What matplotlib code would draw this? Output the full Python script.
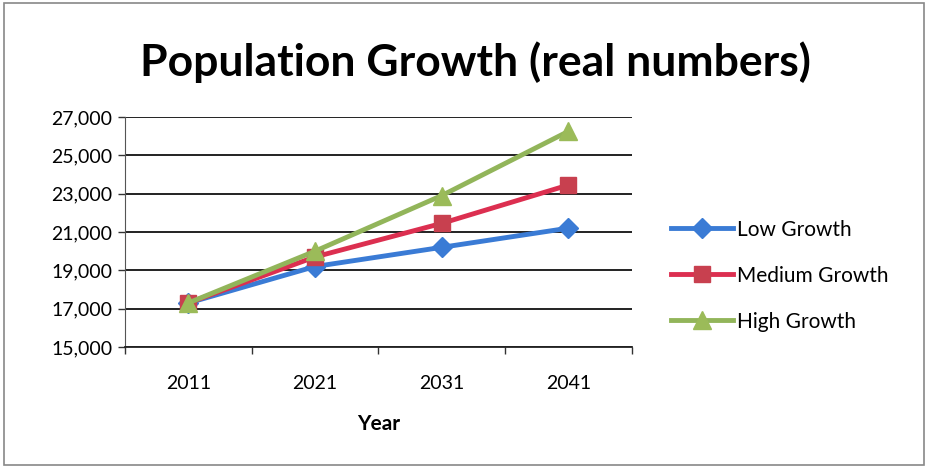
import matplotlib.pyplot as plt
from matplotlib.patches import Rectangle
from matplotlib.ticker import FuncFormatter, FixedLocator

years = ["2011", "2021", "2031", "2041"]
low_growth = [17300, 19200, 20200, 21200]
medium_growth = [17300, 19700, 21450, 23450]
high_growth = [17300, 20000, 22900, 26250]

plt.rcParams["font.family"] = ["Lato", "DejaVu Sans"]

fig = plt.figure(figsize=(9.28, 4.68), dpi=100)
ax = fig.add_axes([0.1347, 0.2585, 0.546, 0.4915])

x = list(range(len(years)))
ax.plot(x, low_growth, color="#3a7bd5", lw=3.5, marker="D", ms=10,
        mfc="#3a7bd5", mec="#3a7bd5", label="Low Growth", zorder=3)
ax.plot(x, medium_growth, color="#dc2f50", lw=3.5, marker="s", ms=12,
        mfc="#c8404f", mec="#c8404f", label="Medium Growth", zorder=3)
ax.plot(x, high_growth, color="#92b55a", lw=3.5, marker="^", ms=13,
        mfc="#9bbb59", mec="#9bbb59", label="High Growth", zorder=4)

ax.set_xlim(-0.5, len(years) - 0.5)
ax.set_ylim(15000, 27000)
ax.set_yticks(range(15000, 27001, 2000))
ax.yaxis.set_major_formatter(FuncFormatter(lambda v, p: f"{int(v):,}"))
ax.set_xticks(x)
ax.set_xticklabels(years)
ax.xaxis.set_minor_locator(FixedLocator([i - 0.5 for i in range(len(years) + 1)]))
ax.tick_params(axis="x", which="major", length=0, pad=20, labelsize=14)
ax.tick_params(axis="x", which="minor", length=5, width=1, color="#333333")
ax.tick_params(axis="y", length=5, width=1, color="#333333", labelsize=14, pad=4)
ax.grid(axis="y", color="#111111", lw=1.3)
ax.set_axisbelow(True)
for side in ("top", "right"):
    ax.spines[side].set_visible(False)
ax.spines["left"].set_color("#555555")
ax.spines["bottom"].set_color("#222222")
ax.spines["bottom"].set_linewidth(1.3)

ax.set_xlabel("Year", fontsize=15, fontweight="bold", labelpad=16)

fig.text(0.512, 0.868, "Population Growth (real numbers)", ha="center", va="center",
         fontsize=32, fontweight="bold")

ax.legend(loc="center left", bbox_to_anchor=(1.04, 0.31), frameon=False,
          fontsize=15, handlelength=3.0, handletextpad=0.2, labelspacing=1.25)

fig.patches.append(Rectangle((0.004, 0.006), 0.992, 0.988, transform=fig.transFigure,
                             fill=False, edgecolor="#888888", lw=1.2))

fig.savefig("out.png", dpi=100)
